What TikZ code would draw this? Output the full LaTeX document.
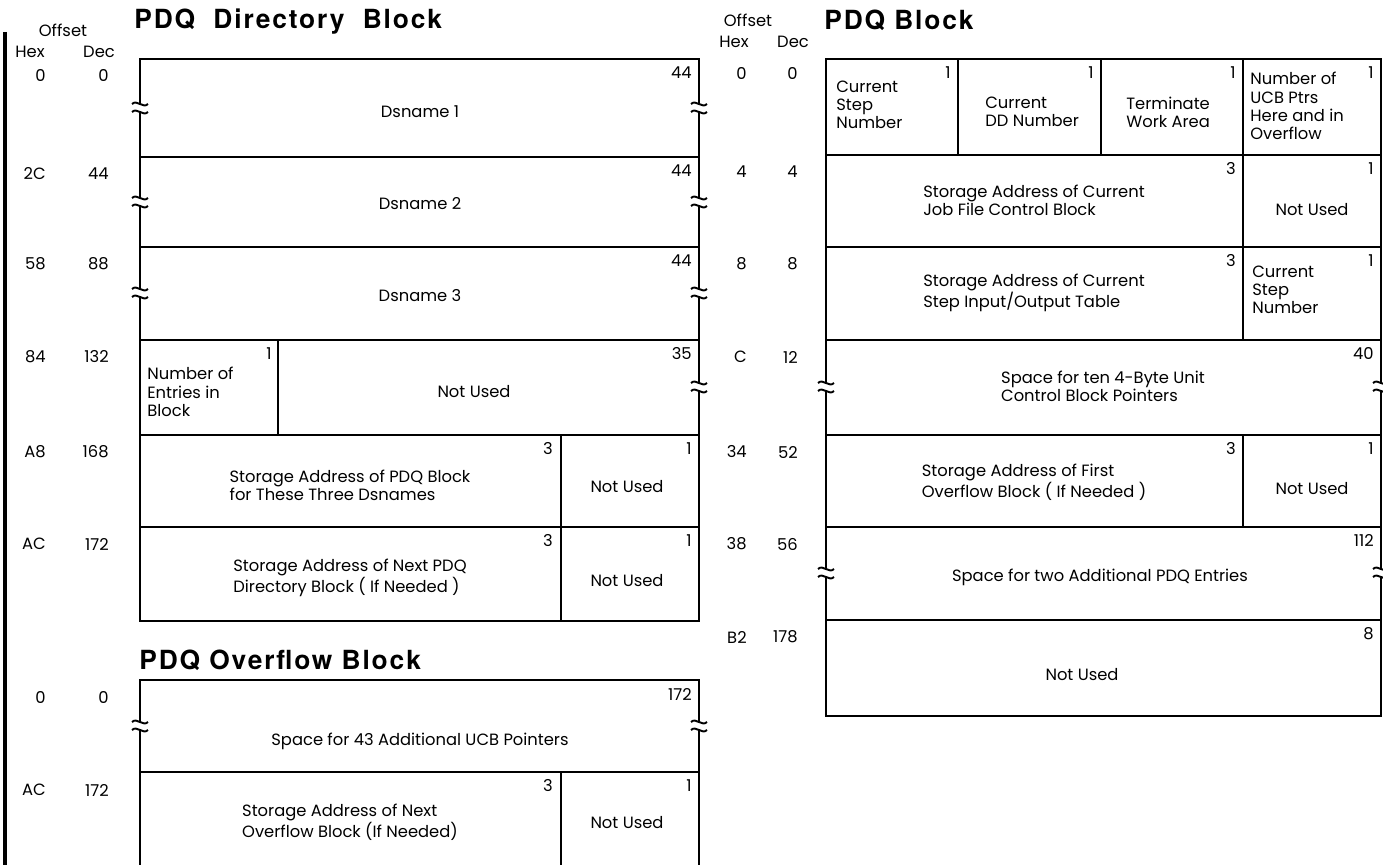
\documentclass[tikz,border=0pt]{standalone}
\usepackage{fontspec}
\setmainfont{Poppins}
\newfontfamily\ttlfont{TeX Gyre Heros}[LetterSpace=7]
\usetikzlibrary{positioning}
\tikzset{
  fld/.style={font=\fontsize{9.3}{10.4}\selectfont, inner sep=0pt, align=left},
  len/.style={font=\fontsize{9.3}{10.4}\selectfont, inner sep=0pt, anchor=north east},
  offs/.style={font=\fontsize{9.3}{10.4}\selectfont, inner sep=0pt, anchor=east},
  hdr/.style={font=\fontsize{9.3}{10.4}\selectfont, inner sep=0pt},
  ttl/.style={font=\ttlfont\bfseries\fontsize{15}{17}\selectfont, inner sep=0pt, anchor=west},
  rim/.style={line width=1.1pt},
  sep/.style={line width=0.8pt},
  bar/.style={line width=2.4pt},
}
% break in a vertical edge
\newcommand{\brkmark}[2]{%
  \fill[white] (#1-2,#2-4) rectangle (#1+2,#2+4);
  \draw[rim] (#1-8,#2-4) .. controls (#1-3,#2-9) and (#1+3,#2+1) .. (#1+8,#2-4);
  \draw[rim] (#1-8,#2+4) .. controls (#1-3,#2-1) and (#1+3,#2+9) .. (#1+8,#2+4);
}

\begin{document}
\begin{tikzpicture}[x=0.02cm, y=-0.02cm]
\useasboundingbox (0,0) rectangle (1383,865);

\draw[bar] (5,32) -- (5,865);

% PDQ Directory Block
\node[hdr] at (63,30) (offA) {Offset};
\node[hdr] at (30,52) (hexA) {Hex};
\node[hdr] at (99,52) (decA) {Dec};
\node[ttl] at (134,22) (ttlDir) {PDQ\ \ Directory\ \ Block};

\draw[rim] (140,59) rectangle (699,621);
\foreach \y in {157,247,340,435,527} \draw[sep] (140,\y) -- (699,\y);
\draw[sep] (278,340) -- (278,435);
\draw[sep] (561,435) -- (561,621);
\brkmark{140}{108} \brkmark{699}{108}
\brkmark{140}{202} \brkmark{699}{202}
\brkmark{140}{293} \brkmark{699}{293}
\brkmark{699}{387}

\node[offs] at (46,76) (hxA1) {0};   \node[offs] at (109,76) (dcA1) {0};
\node[offs] at (46,174) (hxA2) {2C}; \node[offs] at (109,174) (dcA2) {44};
\node[offs] at (46,264) (hxA3) {58}; \node[offs] at (109,264) (dcA3) {88};
\node[offs] at (46,357) (hxA4) {84}; \node[offs] at (109,357) (dcA4) {132};
\node[offs] at (46,452) (hxA5) {A8}; \node[offs] at (109,452) (dcA5) {168};
\node[offs] at (46,544) (hxA6) {AC}; \node[offs] at (109,544) (dcA6) {172};

\node[fld] at (420,112) (dsA) {Dsname 1};
\node[len] at (692,66) (lnA) {44};
\node[fld] at (420,204) (dsB) {Dsname 2};
\node[len] at (692,164) (lnB) {44};
\node[fld] at (420,296) (dsC) {Dsname 3};
\node[len] at (692,254) (lnC) {44};

\node[fld, anchor=west] at (147,392) (nEnt) {Number of\\Entries in\\Block};
\node[len] at (272,347) (lnD) {1};
\node[fld] at (474,392) (nuA) {Not Used};
\node[len] at (692,347) (lnE) {35};

\node[fld] at (350,485) (saPdq) {Storage Address of PDQ Block\\for These Three Dsnames};
\node[len] at (553,442) (lnF) {3};
\node[len] at (692,442) (lnG) {1};
\node[fld] at (627,487) (nuB) {Not Used};

\node[fld] at (350,578) (saDir) {Storage Address of Next PDQ\\Directory Block ( If Needed )};
\node[len] at (553,534) (lnH) {3};
\node[len] at (692,534) (lnI) {1};
\node[fld] at (627,581) (nuC) {Not Used};

% PDQ Overflow Block
\node[ttl] at (139,660) (ttlOvf) {PDQ\ Overflow\ Block};
\draw[rim] (140,865) -- (140,680) -- (699,680) -- (699,865);
\draw[sep] (140,772) -- (699,772);
\draw[sep] (561,772) -- (561,865);
\brkmark{140}{726} \brkmark{699}{726}

\node[offs] at (46,697) (hxB1) {0};  \node[offs] at (109,697) (dcB1) {0};
\node[offs] at (46,790) (hxB2) {AC}; \node[offs] at (109,790) (dcB2) {172};

\node[fld] at (420,741) (spUcb) {Space for 43 Additional UCB Pointers};
\node[len] at (692,688) (lnJ) {172};
\node[fld] at (350,822) (saOvf) {Storage Address of Next\\Overflow Block (If Needed)};
\node[len] at (553,779) (lnK) {3};
\node[len] at (692,779) (lnL) {1};
\node[fld] at (627,823) (nuD) {Not Used};

% PDQ Block
\node[hdr] at (748,20) (offB) {Offset};
\node[hdr] at (734,42) (hexB) {Hex};
\node[hdr] at (793,42) (decB) {Dec};
\node[ttl] at (824,20) (ttlPdq) {PDQ\ Block};

\draw[rim] (826,59) rectangle (1381,716);
\foreach \y in {155,247,340,435,527,620} \draw[sep] (826,\y) -- (1381,\y);
\draw[sep] (958,59) -- (958,155);
\draw[sep] (1101,59) -- (1101,155);
\draw[sep] (1243,59) -- (1243,340);
\draw[sep] (1243,435) -- (1243,527);
\brkmark{826}{387} \brkmark{1381}{387}
\brkmark{826}{573} \brkmark{1381}{573}

\node[offs] at (747,74) (hxC1) {0};   \node[offs] at (798,74) (dcC1) {0};
\node[offs] at (747,172) (hxC2) {4};  \node[offs] at (798,172) (dcC2) {4};
\node[offs] at (747,264) (hxC3) {8};  \node[offs] at (798,264) (dcC3) {8};
\node[offs] at (747,357) (hxC4) {C};  \node[offs] at (798,357) (dcC4) {12};
\node[offs] at (747,452) (hxC5) {34}; \node[offs] at (798,452) (dcC5) {52};
\node[offs] at (747,544) (hxC6) {38}; \node[offs] at (798,544) (dcC6) {56};
\node[offs] at (747,637) (hxC7) {B2}; \node[offs] at (798,637) (dcC7) {178};

\node[fld, anchor=west] at (836,105) (curStp) {Current\\Step\\Number};
\node[len] at (951,66) (lnM) {1};
\node[fld, anchor=west] at (985,112) (curDd) {Current\\DD Number};
\node[len] at (1094,66) (lnN) {1};
\node[fld, anchor=west] at (1126,112) (trmWa) {Terminate\\Work Area};
\node[len] at (1236,66) (lnO) {1};
\node[fld, anchor=west] at (1250,106) (nUcb) {Number of\\UCB Ptrs\\Here and in\\Overflow};
\node[len] at (1374,66) (lnP) {1};

\node[fld] at (1034,200) (saJfcb) {Storage Address of Current\\Job File Control Block};
\node[len] at (1236,162) (lnQ) {3};
\node[len] at (1374,162) (lnR) {1};
\node[fld] at (1312,210) (nuE) {Not Used};

\node[fld] at (1034,293) (saSiot) {Storage Address of Current\\Step Input/Output Table};
\node[len] at (1236,254) (lnS) {3};
\node[len] at (1374,254) (lnT) {1};
\node[fld, anchor=west] at (1252,290) (curStpB) {Current\\Step\\Number};

\node[fld] at (1103,386) (spUnit) {Space for ten 4-Byte Unit\\Control Block Pointers};
\node[len] at (1374,347) (lnU) {40};

\node[fld] at (1034,482) (saFirst) {Storage Address of First\\Overflow Block ( If Needed )};
\node[len] at (1236,442) (lnV) {3};
\node[len] at (1374,442) (lnW) {1};
\node[fld] at (1312,489) (nuF) {Not Used};

\node[fld] at (1100,577) (spPdq) {Space for two Additional PDQ Entries};
\node[len] at (1374,534) (lnX) {112};

\node[fld] at (1082,675) (nuG) {Not Used};
\node[len] at (1374,627) (lnY) {8};

\end{tikzpicture}
\end{document}
